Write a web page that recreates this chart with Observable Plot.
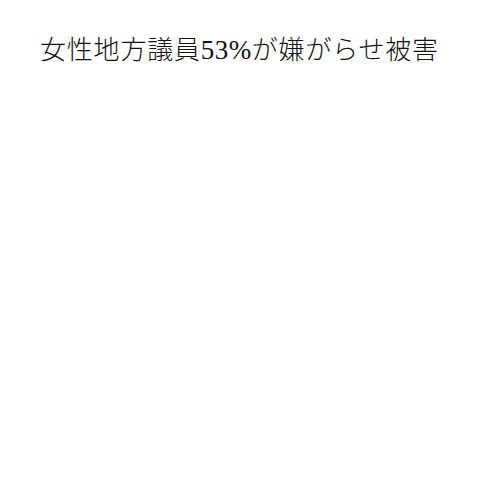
<!DOCTYPE html>
<html><head><meta charset="utf-8">
<script src="https://cdn.jsdelivr.net/npm/d3@7"></script>
<script src="https://cdn.jsdelivr.net/npm/@observablehq/plot@0.6"></script>
<style>
html,body{margin:0;padding:0;background:#fff;width:500px;height:500px;overflow:hidden}
#title{position:absolute;left:40px;top:29px;font-family:"Noto Sans CJK JP",sans-serif;font-weight:300;font-size:26px;color:#111;white-space:nowrap;letter-spacing:0.8px}
#title .num{font-family:"Liberation Serif",serif;font-weight:400;font-size:27px;letter-spacing:0.5px}
#chart{position:absolute;left:0;top:80px}
</style></head>
<body>
<div id="title"></div>
<div id="chart"></div>
<script>
const titlePre = "女性地方議員";
const titleNum = "53%";
const titlePost = "が嫌がらせ被害";
const categories = [];
const values = [];
const t = document.getElementById("title");
t.append(titlePre);
const s = document.createElement("span"); s.className = "num"; s.textContent = titleNum; t.append(s);
t.append(titlePost);
const data = categories.map((c, i) => ({category: c, value: values[i]}));
const chart = Plot.plot({
  width: 500,
  height: 420,
  style: {background: "#fff"},
  x: {axis: null},
  y: {axis: null},
  marks: [Plot.barY(data, {x: "category", y: "value"})]
});
document.getElementById("chart").appendChild(chart);
</script>
</body></html>
